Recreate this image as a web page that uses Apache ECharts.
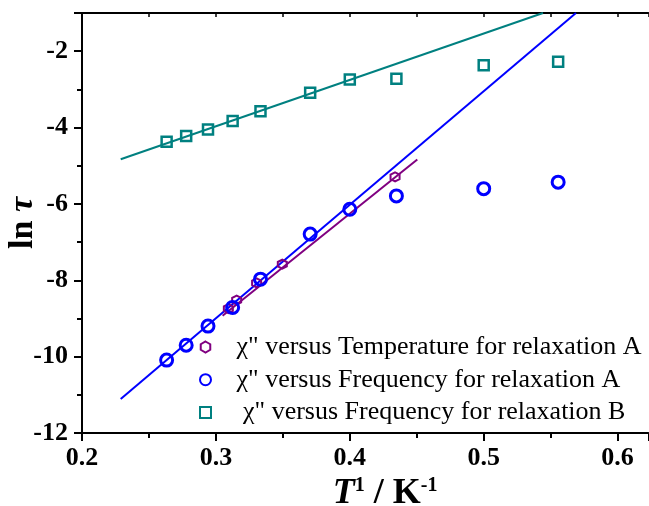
<!DOCTYPE html>
<html>
<head>
<meta charset="utf-8">
<script src="https://cdn.jsdelivr.net/npm/echarts@6/dist/echarts.min.js"></script>
<style>
html,body{margin:0;padding:0;background:#fff;}
#chart{width:649px;height:506px;}
</style>
</head>
<body>
<div id="chart"></div>
<script>
// Inverse temperature (K^-1) for the frequency-scan points
var invT = [0.2632, 0.2778, 0.2941, 0.3125, 0.3333, 0.3704, 0.4000, 0.4348, 0.5000, 0.5556];
// ln tau, relaxation B (frequency)
var lnTauFreqB = [-4.37, -4.22, -4.05, -3.83, -3.57, -3.09, -2.74, -2.72, -2.37, -2.28];
// ln tau, relaxation A (frequency)
var lnTauFreqA = [-10.09, -9.70, -9.20, -8.71, -7.97, -6.79, -6.14, -5.79, -5.60, -5.43];
// Temperature-scan points, relaxation A
var invTTemp = [0.3093, 0.3155, 0.3304, 0.3496, 0.4338];
var lnTauTempA = [-8.74, -8.52, -8.07, -7.58, -5.29];
// Fit line end points [x, y]
var fitB = [[0.2289, -4.83], [0.5443, -1.0]];
var fitA = [[0.2289, -11.11], [0.5689, -1.0]];
var fitTemp = [[0.305, -8.93], [0.4504, -4.835]];
// Legend names
var names = ['\u03c7" versus Temperature for relaxation A', '\u03c7" versus Frequency for relaxation A', ' \u03c7" versus Frequency for relaxation B'];

function pairs(xs, ys) { return xs.map(function (x, i) { return [x, ys[i]]; }); }

var hexPath = 'path://M0,-1L0.866,-0.5L0.866,0.5L0,1L-0.866,0.5L-0.866,-0.5Z';
var sqPath = 'path://M0,0L1,0L1,1L0,1Z';
var FONT = 'Liberation Serif';

var chart = echarts.init(document.getElementById('chart'), null, {renderer: 'canvas'});
chart.setOption({
  animation: false,
  backgroundColor: '#fff',
  grid: {left: 82, top: 13, width: 566.4, height: 420, containLabel: false, outerBoundsMode: 'none'},
  legend: {
    data: names,
    orient: 'vertical',
    left: 194,
    top: 329,
    itemWidth: 52,
    itemHeight: 11,
    itemGap: 6.7,
    textStyle: {fontFamily: FONT, fontSize: 26, color: '#000', lineHeight: 26},
    selectedMode: false
  },
  xAxis: [{
    type: 'value', position: 'bottom', min: 0.2, max: 0.623, interval: 0.1,
    axisLine: {show: true, onZero: false, lineStyle: {color: '#000', width: 2}},
    axisTick: {show: true, inside: false, length: 8, lineStyle: {color: '#000', width: 2}},
    minorTick: {show: true, splitNumber: 2, length: 5, lineStyle: {color: '#000', width: 2}},
    axisLabel: {fontFamily: FONT, fontWeight: 'bold', fontSize: 26, color: '#000', margin: 12, showMaxLabel: false,
      formatter: function (v) { return v.toFixed(1); }},
    splitLine: {show: false},
    name: '{ti|T}{sup|1}{n| / K}{sup|-1}',
    nameLocation: 'middle',
    nameGap: 39,
    nameTextStyle: {
      padding: [0, 0, 0, 40],
      rich: {
        ti: {fontFamily: FONT, fontWeight: 'bold', fontStyle: 'italic', fontSize: 36, color: '#000', verticalAlign: 'bottom'},
        n: {fontFamily: FONT, fontWeight: 'bold', fontSize: 36, color: '#000', verticalAlign: 'bottom'},
        sup: {fontFamily: FONT, fontWeight: 'bold', fontSize: 20, color: '#000', verticalAlign: 'top', padding: [0, 0, 16, 0]}
      }
    }
  }, {
    type: 'value', position: 'top', min: 0.2, max: 0.623, interval: 0.05,
    axisLine: {show: true, onZero: false, lineStyle: {color: '#000', width: 2}},
    axisTick: {show: true, inside: true, length: 4, lineStyle: {color: '#000', width: 1.5}},
    axisLabel: {show: false},
    splitLine: {show: false}
  }],
  yAxis: [{
    type: 'value', min: -12, max: -1, interval: 2,
    axisLine: {show: true, onZero: false, lineStyle: {color: '#000', width: 2}},
    axisTick: {show: true, inside: false, length: 8, lineStyle: {color: '#000', width: 2}},
    minorTick: {show: true, splitNumber: 2, length: 5, lineStyle: {color: '#000', width: 2}},
    axisLabel: {fontFamily: FONT, fontWeight: 'bold', fontSize: 26, color: '#000', margin: 14, showMaxLabel: false},
    splitLine: {show: false},
    name: '{a|ln }{b|\u03c4}',
    nameLocation: 'middle',
    nameGap: 42,
    nameMoveOverlap: false,
    nameTextStyle: {
      rich: {
        a: {fontFamily: FONT, fontWeight: 'bold', fontSize: 34, color: '#000'},
        b: {fontFamily: FONT, fontWeight: 'bold', fontStyle: 'italic', fontSize: 34, color: '#000'}
      }
    }
  }],
  series: [
    {type: 'line', data: fitB, symbol: 'none', silent: true, lineStyle: {color: '#008080', width: 2}, z: 2},
    {type: 'line', data: fitA, symbol: 'none', silent: true, lineStyle: {color: '#0000ff', width: 2}, z: 2},
    {type: 'line', data: fitTemp, symbol: 'none', silent: true, lineStyle: {color: '#800080', width: 2}, z: 2},
    {name: names[0], type: 'scatter', data: pairs(invTTemp, lnTauTempA), symbol: hexPath, symbolSize: 9,
      itemStyle: {color: 'rgba(0,0,0,0)', borderColor: '#800080', borderWidth: 2, opacity: 1}, z: 3},
    {name: names[1], type: 'scatter', data: pairs(invT, lnTauFreqA), symbol: 'circle', symbolSize: 12,
      itemStyle: {color: 'rgba(0,0,0,0)', borderColor: '#0000ff', borderWidth: 3, opacity: 1}, z: 4},
    {name: names[2], type: 'scatter', data: pairs(invT, lnTauFreqB), symbol: sqPath, symbolSize: 10,
      itemStyle: {color: 'rgba(0,0,0,0)', borderColor: '#008080', borderWidth: 2.5, opacity: 1}, z: 4}
  ]
});
</script>
</body>
</html>
